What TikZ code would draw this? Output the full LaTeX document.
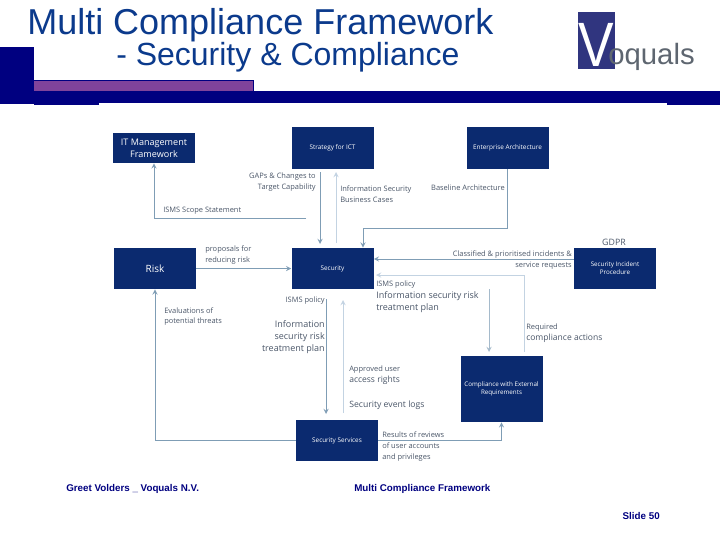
\documentclass[tikz,border=0pt]{standalone}
\usepackage{fontspec}
\setmainfont{Liberation Sans}
\newfontfamily\labelfont{Open Sans}
\definecolor{boxblue}{HTML}{0B2A6F}
\definecolor{bandblue}{HTML}{000080}
\definecolor{barpurple}{HTML}{80439B}
\definecolor{titleblue}{HTML}{0B3A8C}
\definecolor{logoblue}{HTML}{30357F}
\definecolor{logogray}{HTML}{5E6670}
\definecolor{linedark}{HTML}{7F9DB5}
\definecolor{linepale}{HTML}{C3D3E2}
\definecolor{labelgray}{HTML}{4A5668}
\tikzset{
  box/.style={fill=boxblue, text=white, align=center, inner sep=0pt, font=\labelfont\fontsize{4.8}{6}\selectfont, minimum width=61.5pt, minimum height=31pt},
  lbl/.style={text=labelgray, inner sep=0pt, yshift=-0.75pt, font=\labelfont\fontsize{5.6}{8.2}\selectfont},
  biglbl/.style={lbl, font=\labelfont\fontsize{6.75}{9}\selectfont},
  title/.style={text=titleblue, inner sep=0pt, anchor=west, font=\fontsize{27}{29}\selectfont},
  foot/.style={text=bandblue, inner sep=0pt, font=\bfseries\fontsize{7.35}{8}\selectfont},
  flow/.style={draw=linedark, line width=0.75pt, ->},
  paleflow/.style={flow, draw=linepale}
}
\begin{document}
\begin{tikzpicture}[>=stealth, x=0.75pt, y=-0.75pt]
\useasboundingbox (0,0) rectangle (720,540);
\fill[bandblue] (0,47) rectangle (33.5,104);
\fill[bandblue] (33.5,91) rectangle (720,103);
\fill[bandblue] (33.5,103) rectangle (99,105);
\fill[bandblue] (667,103) rectangle (720,105);
\draw[bandblue, fill=barpurple, line width=0.75pt] (33.5,80.5) rectangle (253,91);
\node[title] (title) at (27,25) {Multi Compliance Framework};
\node[title, font=\fontsize{24}{26}\selectfont] (subtitle) at (116,57.5) {- Security \& Compliance};
\fill[logoblue] (578,12) rectangle (615,69);
\node[text=white, inner sep=0pt, xscale=0.85, font=\fontsize{47}{47}\selectfont] (logov) at (596,45) {V};
\node[text=logogray, inner sep=0pt, anchor=west, font=\fontsize{22}{24}\selectfont] (logotext) at (608,57) {oquals};

\node[box, minimum height=22.5pt, font=\labelfont\fontsize{6.8}{9}\selectfont] (itmgmt) at (154,148) {IT Management\\Framework};
\node[box] (strategy) at (332.5,148) {Strategy for ICT};
\node[box] (enterprise) at (507.5,148) {Enterprise Architecture};
\node[box, font=\labelfont\fontsize{7.5}{9}\selectfont] (risk) at (155,268.5) {Risk};
\node[box] (security) at (332.5,268.5) {Security};
\node[box, font=\labelfont\fontsize{4.7}{6}\selectfont] (incident) at (615,268.5) {Security Incident\\Procedure};
\node[box, minimum height=49.5pt, font=\labelfont\fontsize{4.7}{6}\selectfont] (compliance) at (501.5,389) {Compliance with External\\Requirements};
\node[box] (services) at (337,440.5) {Security Services};

\coordinate (scopestart) at (306,218);
\coordinate (gapsstart) at (320,172);
\coordinate (gapsend) at (320,244);
\coordinate (casesstart) at (336,243);
\coordinate (casesend) at (336,172);
\coordinate (baseturn) at (363,228);
\coordinate (policystart) at (326,299);
\coordinate (policyend) at (326,414);
\coordinate (rightsstart) at (343,413);
\coordinate (rightsend) at (343,300);
\coordinate (planstart) at (489,289);
\coordinate (planend) at (489,352);
\coordinate (actionsstart) at (524,352);
\coordinate (actionsend) at (376,275);

\draw[flow] (scopestart) -| (itmgmt.south);
\draw[flow] (gapsstart) -- (gapsend);
\draw[paleflow] (casesstart) -- (casesend);
\draw[flow] (enterprise.south) |- (baseturn) -- (baseturn |- security.north);
\draw[flow] (risk.east) -- (security.west);
\draw[flow] (incident.west |- 0,259) -- (security.east |- 0,259);
\draw[paleflow] (actionsstart) |- (actionsend);
\draw[paleflow, draw=linedark!70] (planstart) -- (planend);
\draw[flow] (policystart) -- (policyend);
\draw[paleflow] (rightsstart) -- (rightsend);
\draw[flow] (services.west) -| (risk.south);
\draw[flow] (services.east) -| (compliance.south);

\node[lbl, anchor=east, align=right] (gapslbl) at (316,181.5) {GAPs \& Changes to\\Target Capability};
\node[lbl, anchor=west] (scopelbl) at (163,210) {ISMS Scope Statement};
\node[lbl, anchor=west, align=left] (caseslbl) at (340,193.5) {Information Security\\Business Cases};
\node[lbl, anchor=east] (baselbl) at (505,187) {Baseline Architecture};
\node[lbl, anchor=west, align=left] (proposlbl) at (205,254) {proposals for\\reducing risk};
\node[lbl, anchor=east, align=right] (classlbl) at (572,259) {Classified \& prioritised incidents \&\\service requests};
\node[lbl, font=\labelfont\fontsize{6.6}{8}\selectfont] (gdpr) at (614,241) {GDPR};
\node[lbl, anchor=west] (policylbl) at (376,284) {ISMS policy};
\node[biglbl, anchor=west, align=left] (planlbl) at (376,301) {Information security risk\\treatment plan};
\node[lbl, anchor=east] (leftpolicylbl) at (325,300) {ISMS policy};
\node[biglbl, anchor=east, align=right] (leftplanlbl) at (325,336.5) {Information\\security risk\\treatment plan};
\node[lbl, anchor=west, align=left] (evallbl) at (164,315.5) {Evaluations of\\potential threats};
\node[lbl, anchor=west, align=left] (requiredlbl) at (526,332.5) {Required\\\fontsize{6.4}{8.6}\selectfont compliance actions};
\node[lbl, anchor=west, align=left] (rightslbl) at (349,374) {Approved user\\\fontsize{6.4}{9}\selectfont access rights};
\node[lbl, font=\labelfont\fontsize{6.5}{8}\selectfont, anchor=west] (logslbl) at (349,404) {Security event logs};
\node[lbl, anchor=west, align=left] (resultslbl) at (382,445.5) {Results of reviews\\of user accounts\\and privileges};

\node[foot, anchor=west] (footleft) at (66,489) {Greet Volders \_ Voquals N.V.};
\node[foot, anchor=west] (footmid) at (354,489) {Multi Compliance Framework};
\node[foot, anchor=east] (footslide) at (660,516) {Slide 50};
\end{tikzpicture}
\end{document}
